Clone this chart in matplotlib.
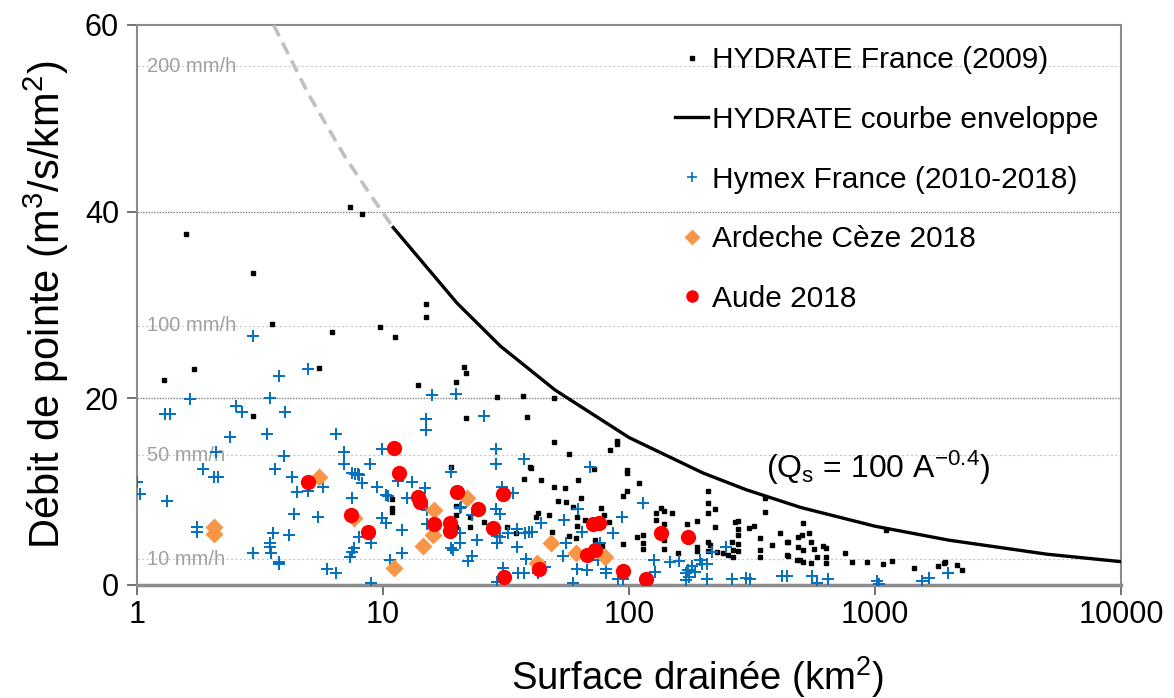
import matplotlib
matplotlib.use('Agg')
import matplotlib.pyplot as plt
from matplotlib.lines import Line2D
from matplotlib.ticker import NullLocator, FixedLocator, FixedFormatter

plt.rcParams['font.family'] = ['Liberation Sans', 'DejaVu Sans']
plt.rcParams['mathtext.fontset'] = 'custom'
plt.rcParams['mathtext.rm'] = 'Liberation Sans'
plt.rcParams['mathtext.it'] = 'Liberation Sans:italic'
plt.rcParams['mathtext.bf'] = 'Liberation Sans:bold'

# ---------------- data ----------------
hydrate_A = [1.58, 2.96, 7.35, 8.2, 3.54, 6.2, 9.7, 11.2, 15.0, 15.0, 1.29, 1.71, 5.5, 13.9,
             19.8, 21.3, 21.7, 2.96, 29.1, 37.1, 21.7, 38.5, 18.9, 37.5, 10.9, 10.9, 10.9,
             19.8, 19.8, 22.6, 22.6, 25.7, 31.9, 34.6, 39.6, 19.8, 49.6, 49.6, 57, 40, 43.9,
             49.6, 55, 62, 51.4, 55.6, 63.8, 59.4, 42.7, 41.8, 47.3, 61.5, 61.5, 66.2, 61,
             57, 48.7, 77, 79, 83, 72.8, 78, 94.6, 94.6, 98.6, 89.4, 89.4, 84, 98.6, 72,
             98.6, 110, 129, 129, 135, 139, 150, 139, 139, 139, 108, 114, 114, 114, 172,
             189, 158, 189, 189, 210, 210, 210, 224, 224, 210, 213, 228, 210, 241, 253,
             262, 264, 264, 270, 277, 277, 277, 277, 277, 307, 322, 341, 341, 341, 357,
             357, 381, 411, 439, 439, 444, 444, 486, 504, 510, 486, 480, 495, 510, 510,
             540, 548, 548, 565, 580, 615, 635, 635, 635, 755, 807, 927, 1078, 1173, 1109,
             1442, 1803, 1900, 1930, 2154, 2250]
hydrate_Q = [37.6, 33.4, 40.5, 39.8, 28.0, 27.1, 27.6, 26.6, 30.1, 28.7, 22.0, 23.1, 23.2, 21.4,
             21.7, 23.4, 22.7, 18.1, 20.1, 20.2, 17.9, 18.0, 12.6, 11.4, 9.2, 8.25, 7.8,
             8.5, 7.5, 7.3, 6.2, 6.75, 6.2, 5.55, 12.6, 6.2, 20.0, 15.3, 14.0, 12.5, 11.3,
             10.5, 10.4, 11.2, 9.0, 8.9, 9.3, 8.4, 7.7, 7.3, 7.5, 7.3, 6.3, 7.0, 5.0,
             5.3, 5.7, 8.2, 7.5, 6.75, 4.8, 4.2, 4.4, 9.5, 10.1, 15.4, 15.1, 14.5, 12.3, 12.4,
             12.0, 10.9, 7.7, 7.0, 8.25, 7.9, 7.7, 6.5, 4.8, 3.85, 5.1, 5.35, 4.5, 3.85, 6.5,
             6.9, 3.4, 4.1, 3.6, 10.1, 8.8, 7.7, 8.1, 6.2, 4.6, 4.3, 3.5, 3.6, 3.4, 3.2,
             4.6, 3.75, 3.0, 6.75, 6.9, 6.0, 5.35, 4.4, 3.6, 6.1, 6.3, 5.0, 3.75, 3.0, 9.3,
             7.8, 4.3, 5.6, 4.6, 3.2, 4.6, 3.1, 5.1, 5.35, 6.6, 4.1, 2.7, 2.7, 2.5, 3.75,
             5.6, 4.6, 2.35, 3.85, 3.0, 4.2, 3.95, 3.0, 2.35, 3.4, 2.45, 2.45, 2.3, 2.55, 5.9,
             1.8, 2.0, 2.35, 2.45, 2.1, 1.6]

hymex_A = [1.64, 1.30, 1.36, 2.53, 2.67, 3.47, 4.0, 2.39, 3.38, 2.1, 3.96, 1.85, 2.06, 2.13,
           3.64, 4.27, 4.47, 1.03, 1.0, 1.32, 4.35, 1.75, 1.75, 3.57, 4.15, 3.47, 3.47, 2.96,
           3.5, 3.78, 3.78, 2.96, 3.78, 4.96, 6.44, 6.94, 6.94, 8.85, 9.9, 7.48, 7.7, 7.9,
           8.0, 8.22, 9.45, 10.3, 10.5, 7.48, 4.96, 5.7, 5.44, 5.92, 6.44, 8.94, 7.35, 7.5,
           7.6, 8.0, 8.94, 9.9, 10.3, 11.9, 11.9, 10.7, 12.5, 13.1, 14.8, 15.0, 15.0, 15.8,
           19.8, 25.7, 28.8, 28.8, 37.4, 18.9, 30.5, 33.8, 20.8, 28.8, 29.8, 15.1, 15.1, 23,
           20.6, 20.6, 24.1, 29.2, 29.2, 32.2, 35, 35, 37.8, 18.9, 19.3, 23, 22.2, 30.7, 35.3,
           37.5, 29.2, 38, 11.5, 20.6, 69.4, 61.8, 54.4, 43.9, 39.2, 40.5, 29.8, 64.4,
           55.6, 54, 86, 93.5, 76, 74.5, 61.5, 67.5, 80.5, 80.5, 59.4, 90, 94.6, 42.7, 45.5,
           114, 126, 128, 147, 160, 170, 174, 176, 170, 181, 185, 194, 198, 207, 207, 217,
           247, 262, 299, 310, 420, 440, 556, 580, 645, 1020, 1040, 1553, 1650, 1980]
hymex_Q = [19.9, 18.3, 18.3, 19.2, 18.5, 20.0, 18.5, 15.9, 16.2, 14.3, 13.8, 12.4, 11.6, 11.6,
           12.4, 11.6, 10.0, 9.8, 11.0, 9.0, 7.6, 6.2, 5.7, 5.6, 5.35, 4.5, 4.1, 3.4,
           3.4, 2.5, 2.25, 26.7, 22.4, 23.1, 16.2, 14.3, 13.0, 13.0, 14.6, 12.0, 11.9, 11.9,
           11.8, 10.9, 10.5, 9.6, 9.5, 9.3, 10.1, 10.5, 7.3, 1.7, 1.3, 0.2, 3.0, 3.5,
           3.95, 5.1, 4.5, 7.2, 6.6, 5.9, 3.4, 2.7, 9.3, 11.0, 10.4, 17.8, 16.6, 20.4,
           20.5, 18.1, 14.6, 13.0, 13.5, 12.1, 10.5, 9.9, 8.4, 8.1, 7.6, 8.0, 6.5, 7.5,
           5.6, 4.5, 4.8, 4.5, 5.25, 5.6, 4.1, 6.0, 5.6, 4.0, 3.8, 3.1, 2.6, 1.8, 1.3,
           1.3, 0.3, 2.8, 11.1, 8.25, 12.6, 8.1, 7.0, 6.6, 5.7, 5.7, 5.1, 5.7,
           4.5, 3.1, 5.6, 7.3, 4.5, 2.7, 1.7, 1.6, 1.7, 1.3, 0.2, 0.65, 0.65, 1.3, 1.9,
           8.8, 2.7, 1.4, 2.5, 2.6, 1.3, 1.6, 0.9, 0.5, 2.0, 1.4, 2.7, 2.2, 2.2, 0.65, 3.5,
           4.1, 0.65, 0.75, 0.65, 1.0, 1.0, 1.0, 0.2, 0.65, 0.45, 0.1, 0.45, 0.75, 1.3]

ardeche_A = [2.06, 2.06, 5.5, 7.6, 16.1, 15.9, 14.5, 11.1, 22, 48.3, 61, 80, 42.4]
ardeche_Q = [6.2, 5.5, 11.6, 7.2, 8.0, 5.35, 4.2, 1.8, 9.3, 4.5, 3.4, 3.0, 2.35]

aude_A = [11.1, 11.6, 4.96, 7.4, 8.7, 13.9, 14.2, 16.1, 18.7, 18.7, 20, 24.3, 28, 30.7,
          31, 43, 67.5, 72.8, 71.4, 75.5, 94.6, 117, 135, 174]
aude_Q = [14.7, 12.0, 11.0, 7.5, 5.7, 9.4, 8.9, 6.5, 6.6, 5.8, 10.0, 8.1, 6.1, 9.75,
          0.85, 1.7, 3.2, 3.75, 6.5, 6.6, 1.5, 0.65, 5.6, 5.1]

# envelope curve Qs = 100 A^-0.4 (vertices)
env_A = [11, 20, 30, 50, 100, 200, 300, 500, 1000, 2000, 5000, 10000]
env_Q = [38.3, 30.2, 25.6, 20.9, 15.8, 12.0, 10.2, 8.3, 6.3, 4.8, 3.3, 2.5]
env_ext_A = [3.59, 5, 7, 9, 11]
env_ext_Q = [60, 52.5, 45.9, 41.6, 38.3]

rain_labels = ['10 mm/h', '50 mm/h', '100 mm/h', '200 mm/h']
rain_Q = [2.78, 13.89, 27.78, 55.56]

x_ticks = [1, 10, 100, 1000, 10000]
x_tick_labels = ['1', '10', '100', '1000', '10000']
y_ticks = [0, 20, 40, 60]

legend_labels = ['HYDRATE France (2009)', 'HYDRATE courbe enveloppe',
                 'Hymex France (2010-2018)', 'Ardeche Cèze 2018', 'Aude 2018']

# ---------------- figure ----------------
fig = plt.figure(figsize=(11.74, 6.98), dpi=100)
ax = fig.add_axes([137/1174, 1 - 585/698, 984/1174, 560/698])
ax.set_xscale('log')
ax.set_xlim(1, 10000)
ax.set_ylim(0, 60)

# grid lines
for yv in [20, 40]:
    ax.axhline(yv, color='#7f7f7f', lw=1.0, ls=(0, (1, 1)), zorder=1)
for q, lab in zip(rain_Q, rain_labels):
    ax.axhline(q, color='#c8c8c8', lw=0.8, ls=(0, (2, 2)), zorder=1)
    ax.text(1.1, q, lab, color='#a0a0a0', fontsize=14.5, va='center', ha='left', zorder=2)

BLUE = '#0070C0'
ax.plot(hydrate_A, hydrate_Q, ls='none', marker='s', ms=3.2, color='black', zorder=3)
ax.plot(env_ext_A, env_ext_Q, color='#c0c0c0', lw=2.6, ls=(0, (3.5, 2)), zorder=3)
ax.plot(env_A, env_Q, color='black', lw=2.4, zorder=4)
ax.plot(hymex_A, hymex_Q, ls='none', marker='+', ms=9, mew=1.4, color=BLUE, zorder=5)
ax.plot(ardeche_A, ardeche_Q, ls='none', marker='D', ms=9, color='#F79646', mec='none', zorder=6)
ax.plot(aude_A, aude_Q, ls='none', marker='o', ms=11, color='#FF0000', mec='none', zorder=7)

ax.text(3.6e2, 12.6, r'(Q$_{\mathrm{s}}$ = 100 A$^{\mathrm{-0.4}}$)', fontsize=23,
        ha='left', va='center', zorder=8)

# axes styling
for s in ax.spines.values():
    s.set_color('#8c8c8c')
    s.set_linewidth(1.5)
ax.spines['bottom'].set_linewidth(2.5)
ax.xaxis.set_major_locator(FixedLocator(x_ticks))
ax.xaxis.set_major_formatter(FixedFormatter(x_tick_labels))
ax.xaxis.set_minor_locator(NullLocator())
ax.set_yticks(y_ticks)
ax.tick_params(axis='both', labelsize=22, direction='out', length=7, width=1.2,
               color='#595959')
ax.tick_params(axis='x', pad=4)
ax.tick_params(axis='y', pad=6)
ax.set_xlabel('Surface drainée (km$^{2}$)', fontsize=27.5)
ax.xaxis.set_label_coords((698 - 137) / 984, (585 - 654) / 560)
ax.set_ylabel('Débit de pointe (m$^{3}$/s/km$^{2}$)', fontsize=30, labelpad=10)

handles = [
    Line2D([], [], ls='none', marker='s', ms=3.2, color='black'),
    Line2D([], [], color='black', lw=2.4),
    Line2D([], [], ls='none', marker='+', ms=7, mew=1.2, color=BLUE),
    Line2D([], [], ls='none', marker='D', ms=8, color='#F79646', mec='none'),
    Line2D([], [], ls='none', marker='o', ms=9, color='#FF0000', mec='none'),
]
leg = ax.legend(handles, legend_labels, loc='upper left', bbox_to_anchor=(0.547, 0.962),
                frameon=False, fontsize=21.5, handlelength=1.1, handletextpad=0.14,
                labelspacing=1.06, borderpad=0, borderaxespad=0)

fig.savefig('out.png', dpi=100)
